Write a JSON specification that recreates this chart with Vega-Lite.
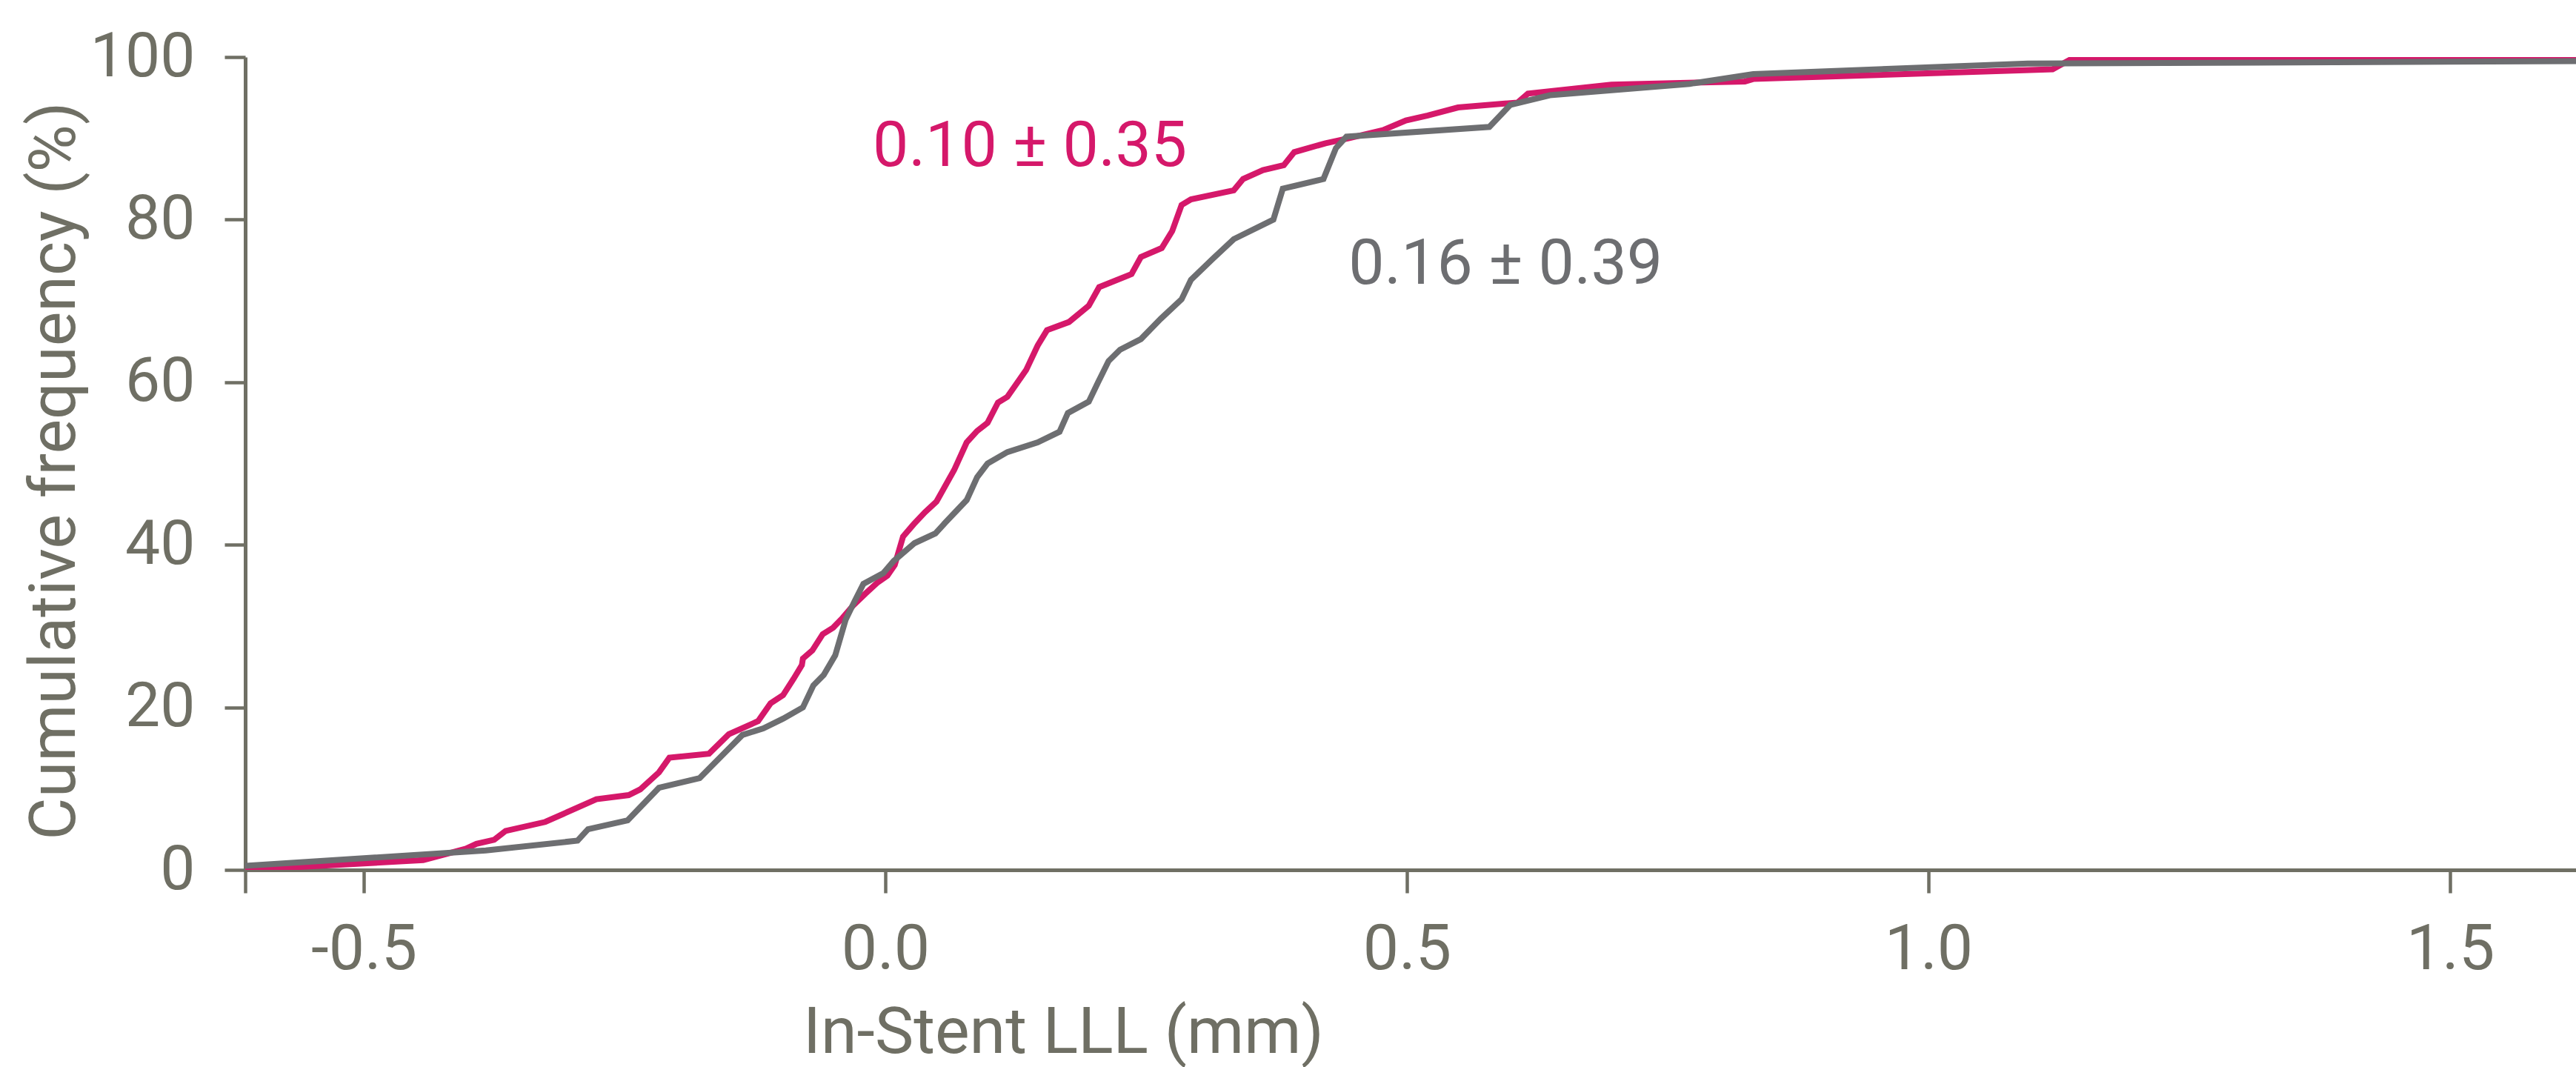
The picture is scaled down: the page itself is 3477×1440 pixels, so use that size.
{
  "$schema": "https://vega.github.io/schema/vega-lite/v6.json",
  "width": 3146,
  "height": 1097,
  "autosize": {"type": "none"},
  "padding": {"left": 331, "top": 77, "right": 0, "bottom": 266},
  "background": "white",
  "config": {"view": {"stroke": null}},
  "datasets": {
    "curves": [
      {"group": "0.10 ± 0.35", "lll": -0.6136, "cum": 0.0},
      {"group": "0.10 ± 0.35", "lll": -0.443, "cum": 1.2},
      {"group": "0.10 ± 0.35", "lll": -0.402, "cum": 2.6},
      {"group": "0.10 ± 0.35", "lll": -0.392, "cum": 3.2},
      {"group": "0.10 ± 0.35", "lll": -0.375, "cum": 3.7},
      {"group": "0.10 ± 0.35", "lll": -0.364, "cum": 4.8},
      {"group": "0.10 ± 0.35", "lll": -0.326, "cum": 5.9},
      {"group": "0.10 ± 0.35", "lll": -0.277, "cum": 8.7},
      {"group": "0.10 ± 0.35", "lll": -0.246, "cum": 9.2},
      {"group": "0.10 ± 0.35", "lll": -0.235, "cum": 9.9},
      {"group": "0.10 ± 0.35", "lll": -0.217, "cum": 12.0},
      {"group": "0.10 ± 0.35", "lll": -0.207, "cum": 13.8},
      {"group": "0.10 ± 0.35", "lll": -0.169, "cum": 14.3},
      {"group": "0.10 ± 0.35", "lll": -0.150, "cum": 16.7},
      {"group": "0.10 ± 0.35", "lll": -0.122, "cum": 18.3},
      {"group": "0.10 ± 0.35", "lll": -0.110, "cum": 20.5},
      {"group": "0.10 ± 0.35", "lll": -0.098, "cum": 21.5},
      {"group": "0.10 ± 0.35", "lll": -0.088, "cum": 23.5},
      {"group": "0.10 ± 0.35", "lll": -0.080, "cum": 25.2},
      {"group": "0.10 ± 0.35", "lll": -0.079, "cum": 26.0},
      {"group": "0.10 ± 0.35", "lll": -0.070, "cum": 27.0},
      {"group": "0.10 ± 0.35", "lll": -0.060, "cum": 29.0},
      {"group": "0.10 ± 0.35", "lll": -0.050, "cum": 29.8},
      {"group": "0.10 ± 0.35", "lll": -0.041, "cum": 31.0},
      {"group": "0.10 ± 0.35", "lll": -0.031, "cum": 32.5},
      {"group": "0.10 ± 0.35", "lll": -0.019, "cum": 34.0},
      {"group": "0.10 ± 0.35", "lll": -0.008, "cum": 35.3},
      {"group": "0.10 ± 0.35", "lll": 0.002, "cum": 36.2},
      {"group": "0.10 ± 0.35", "lll": 0.009, "cum": 37.5},
      {"group": "0.10 ± 0.35", "lll": 0.017, "cum": 41.0},
      {"group": "0.10 ± 0.35", "lll": 0.027, "cum": 42.5},
      {"group": "0.10 ± 0.35", "lll": 0.038, "cum": 44.0},
      {"group": "0.10 ± 0.35", "lll": 0.049, "cum": 45.3},
      {"group": "0.10 ± 0.35", "lll": 0.066, "cum": 49.2},
      {"group": "0.10 ± 0.35", "lll": 0.078, "cum": 52.6},
      {"group": "0.10 ± 0.35", "lll": 0.088, "cum": 54.0},
      {"group": "0.10 ± 0.35", "lll": 0.098, "cum": 55.0},
      {"group": "0.10 ± 0.35", "lll": 0.108, "cum": 57.5},
      {"group": "0.10 ± 0.35", "lll": 0.117, "cum": 58.2},
      {"group": "0.10 ± 0.35", "lll": 0.135, "cum": 61.5},
      {"group": "0.10 ± 0.35", "lll": 0.146, "cum": 64.5},
      {"group": "0.10 ± 0.35", "lll": 0.155, "cum": 66.4},
      {"group": "0.10 ± 0.35", "lll": 0.176, "cum": 67.4},
      {"group": "0.10 ± 0.35", "lll": 0.195, "cum": 69.4},
      {"group": "0.10 ± 0.35", "lll": 0.205, "cum": 71.7},
      {"group": "0.10 ± 0.35", "lll": 0.236, "cum": 73.3},
      {"group": "0.10 ± 0.35", "lll": 0.245, "cum": 75.4},
      {"group": "0.10 ± 0.35", "lll": 0.265, "cum": 76.5},
      {"group": "0.10 ± 0.35", "lll": 0.275, "cum": 78.6},
      {"group": "0.10 ± 0.35", "lll": 0.284, "cum": 81.8},
      {"group": "0.10 ± 0.35", "lll": 0.293, "cum": 82.5},
      {"group": "0.10 ± 0.35", "lll": 0.334, "cum": 83.6},
      {"group": "0.10 ± 0.35", "lll": 0.343, "cum": 85.0},
      {"group": "0.10 ± 0.35", "lll": 0.362, "cum": 86.1},
      {"group": "0.10 ± 0.35", "lll": 0.382, "cum": 86.7},
      {"group": "0.10 ± 0.35", "lll": 0.392, "cum": 88.3},
      {"group": "0.10 ± 0.35", "lll": 0.422, "cum": 89.4},
      {"group": "0.10 ± 0.35", "lll": 0.444, "cum": 90.0},
      {"group": "0.10 ± 0.35", "lll": 0.477, "cum": 91.0},
      {"group": "0.10 ± 0.35", "lll": 0.499, "cum": 92.2},
      {"group": "0.10 ± 0.35", "lll": 0.520, "cum": 92.8},
      {"group": "0.10 ± 0.35", "lll": 0.549, "cum": 93.8},
      {"group": "0.10 ± 0.35", "lll": 0.606, "cum": 94.4},
      {"group": "0.10 ± 0.35", "lll": 0.616, "cum": 95.5},
      {"group": "0.10 ± 0.35", "lll": 0.696, "cum": 96.6},
      {"group": "0.10 ± 0.35", "lll": 0.824, "cum": 97.0},
      {"group": "0.10 ± 0.35", "lll": 0.832, "cum": 97.3},
      {"group": "0.10 ± 0.35", "lll": 1.119, "cum": 98.5},
      {"group": "0.10 ± 0.35", "lll": 1.136, "cum": 99.7},
      {"group": "0.10 ± 0.35", "lll": 1.6207, "cum": 100.0},
      {"group": "0.16 ± 0.39", "lll": -0.6136, "cum": 0.5},
      {"group": "0.16 ± 0.39", "lll": -0.383, "cum": 2.4},
      {"group": "0.16 ± 0.39", "lll": -0.295, "cum": 3.6},
      {"group": "0.16 ± 0.39", "lll": -0.285, "cum": 5.0},
      {"group": "0.16 ± 0.39", "lll": -0.247, "cum": 6.1},
      {"group": "0.16 ± 0.39", "lll": -0.217, "cum": 10.1},
      {"group": "0.16 ± 0.39", "lll": -0.178, "cum": 11.3},
      {"group": "0.16 ± 0.39", "lll": -0.137, "cum": 16.6},
      {"group": "0.16 ± 0.39", "lll": -0.117, "cum": 17.4},
      {"group": "0.16 ± 0.39", "lll": -0.098, "cum": 18.6},
      {"group": "0.16 ± 0.39", "lll": -0.079, "cum": 20.0},
      {"group": "0.16 ± 0.39", "lll": -0.069, "cum": 22.7},
      {"group": "0.16 ± 0.39", "lll": -0.059, "cum": 24.0},
      {"group": "0.16 ± 0.39", "lll": -0.048, "cum": 26.4},
      {"group": "0.16 ± 0.39", "lll": -0.038, "cum": 30.8},
      {"group": "0.16 ± 0.39", "lll": -0.030, "cum": 32.9},
      {"group": "0.16 ± 0.39", "lll": -0.021, "cum": 35.2},
      {"group": "0.16 ± 0.39", "lll": -0.002, "cum": 36.5},
      {"group": "0.16 ± 0.39", "lll": 0.008, "cum": 38.0},
      {"group": "0.16 ± 0.39", "lll": 0.028, "cum": 40.2},
      {"group": "0.16 ± 0.39", "lll": 0.048, "cum": 41.4},
      {"group": "0.16 ± 0.39", "lll": 0.058, "cum": 42.8},
      {"group": "0.16 ± 0.39", "lll": 0.078, "cum": 45.5},
      {"group": "0.16 ± 0.39", "lll": 0.088, "cum": 48.3},
      {"group": "0.16 ± 0.39", "lll": 0.098, "cum": 50.0},
      {"group": "0.16 ± 0.39", "lll": 0.117, "cum": 51.4},
      {"group": "0.16 ± 0.39", "lll": 0.146, "cum": 52.6},
      {"group": "0.16 ± 0.39", "lll": 0.167, "cum": 53.9},
      {"group": "0.16 ± 0.39", "lll": 0.175, "cum": 56.2},
      {"group": "0.16 ± 0.39", "lll": 0.195, "cum": 57.6},
      {"group": "0.16 ± 0.39", "lll": 0.204, "cum": 60.0},
      {"group": "0.16 ± 0.39", "lll": 0.214, "cum": 62.6},
      {"group": "0.16 ± 0.39", "lll": 0.225, "cum": 64.0},
      {"group": "0.16 ± 0.39", "lll": 0.245, "cum": 65.3},
      {"group": "0.16 ± 0.39", "lll": 0.264, "cum": 67.8},
      {"group": "0.16 ± 0.39", "lll": 0.284, "cum": 70.2},
      {"group": "0.16 ± 0.39", "lll": 0.293, "cum": 72.6},
      {"group": "0.16 ± 0.39", "lll": 0.314, "cum": 75.2},
      {"group": "0.16 ± 0.39", "lll": 0.334, "cum": 77.6},
      {"group": "0.16 ± 0.39", "lll": 0.372, "cum": 80.0},
      {"group": "0.16 ± 0.39", "lll": 0.381, "cum": 83.8},
      {"group": "0.16 ± 0.39", "lll": 0.420, "cum": 85.0},
      {"group": "0.16 ± 0.39", "lll": 0.432, "cum": 88.8},
      {"group": "0.16 ± 0.39", "lll": 0.442, "cum": 90.2},
      {"group": "0.16 ± 0.39", "lll": 0.579, "cum": 91.4},
      {"group": "0.16 ± 0.39", "lll": 0.599, "cum": 94.1},
      {"group": "0.16 ± 0.39", "lll": 0.637, "cum": 95.3},
      {"group": "0.16 ± 0.39", "lll": 0.771, "cum": 96.7},
      {"group": "0.16 ± 0.39", "lll": 0.832, "cum": 97.9},
      {"group": "0.16 ± 0.39", "lll": 1.095, "cum": 99.2},
      {"group": "0.16 ± 0.39", "lll": 1.6207, "cum": 99.5}
    ],
    "labels": [
      {"group": "0.10 ± 0.35", "lll": -0.012, "cum": 86.6},
      {"group": "0.16 ± 0.39", "lll": 0.444, "cum": 72.1}
    ]
  },
  "layer": [
    {
      "data": {"name": "curves"},
      "mark": {"type": "line", "strokeWidth": 8, "clip": true},
      "encoding": {
        "x": {
          "field": "lll", "type": "quantitative",
          "scale": {"domain": [-0.6136, 1.6207], "nice": false, "zero": false},
          "axis": {
            "title": "In-Stent LLL (mm)",
            "values": [-0.6136, -0.5, 0, 0.5, 1, 1.5],
            "labelExpr": "datum.value < -0.55 ? '' : (datum.value < 0 ? '-' + format(-datum.value, '.1f') : format(datum.value, '.1f'))",
            "grid": false,
            "domainColor": "#6F6F64", "domainWidth": 5,
            "tickColor": "#6F6F64", "tickWidth": 4.5, "tickSize": 31,
            "labelFont": "Roboto", "labelFontSize": 86, "labelColor": "#6F6F64",
            "labelBaseline": "alphabetic", "labelPadding": 102, "labelFlush": false, "labelOverlap": false,
            "titleFont": "Roboto", "titleFontSize": 88, "titleFontWeight": "normal", "titleColor": "#6F6F64",
            "titleX": 1104, "titleY": 246, "titleAlign": "center", "titleBaseline": "alphabetic", "titleAnchor": null
          }
        },
        "y": {
          "field": "cum", "type": "quantitative",
          "scale": {"domain": [0, 100], "nice": false},
          "axis": {
            "title": "Cumulative frequency (%)",
            "values": [0, 20, 40, 60, 80, 100],
            "grid": false,
            "domainColor": "#6F6F64", "domainWidth": 5,
            "tickColor": "#6F6F64", "tickWidth": 4.5, "tickSize": 28,
            "labelFont": "Roboto", "labelFontSize": 84, "labelColor": "#6F6F64",
            "labelPadding": 40, "labelFlush": false, "labelOverlap": false,
            "titleFont": "Roboto", "titleFontSize": 88, "titleFontWeight": "normal", "titleColor": "#6F6F64",
            "titleX": -231, "titleY": 558, "titleAngle": -90, "titleAlign": "center", "titleBaseline": "alphabetic", "titleAnchor": null
          }
        },
        "color": {
          "field": "group", "type": "nominal",
          "scale": {"domain": ["0.10 ± 0.35", "0.16 ± 0.39"], "range": ["#D5186A", "#6D6E71"]},
          "legend": null
        }
      }
    },
    {
      "data": {"name": "labels"},
      "mark": {"type": "text", "font": "Roboto", "fontSize": 86, "align": "left", "baseline": "alphabetic"},
      "encoding": {
        "x": {"field": "lll", "type": "quantitative"},
        "y": {"field": "cum", "type": "quantitative"},
        "text": {"field": "group"},
        "color": {"field": "group", "type": "nominal", "legend": null}
      }
    }
  ]
}
